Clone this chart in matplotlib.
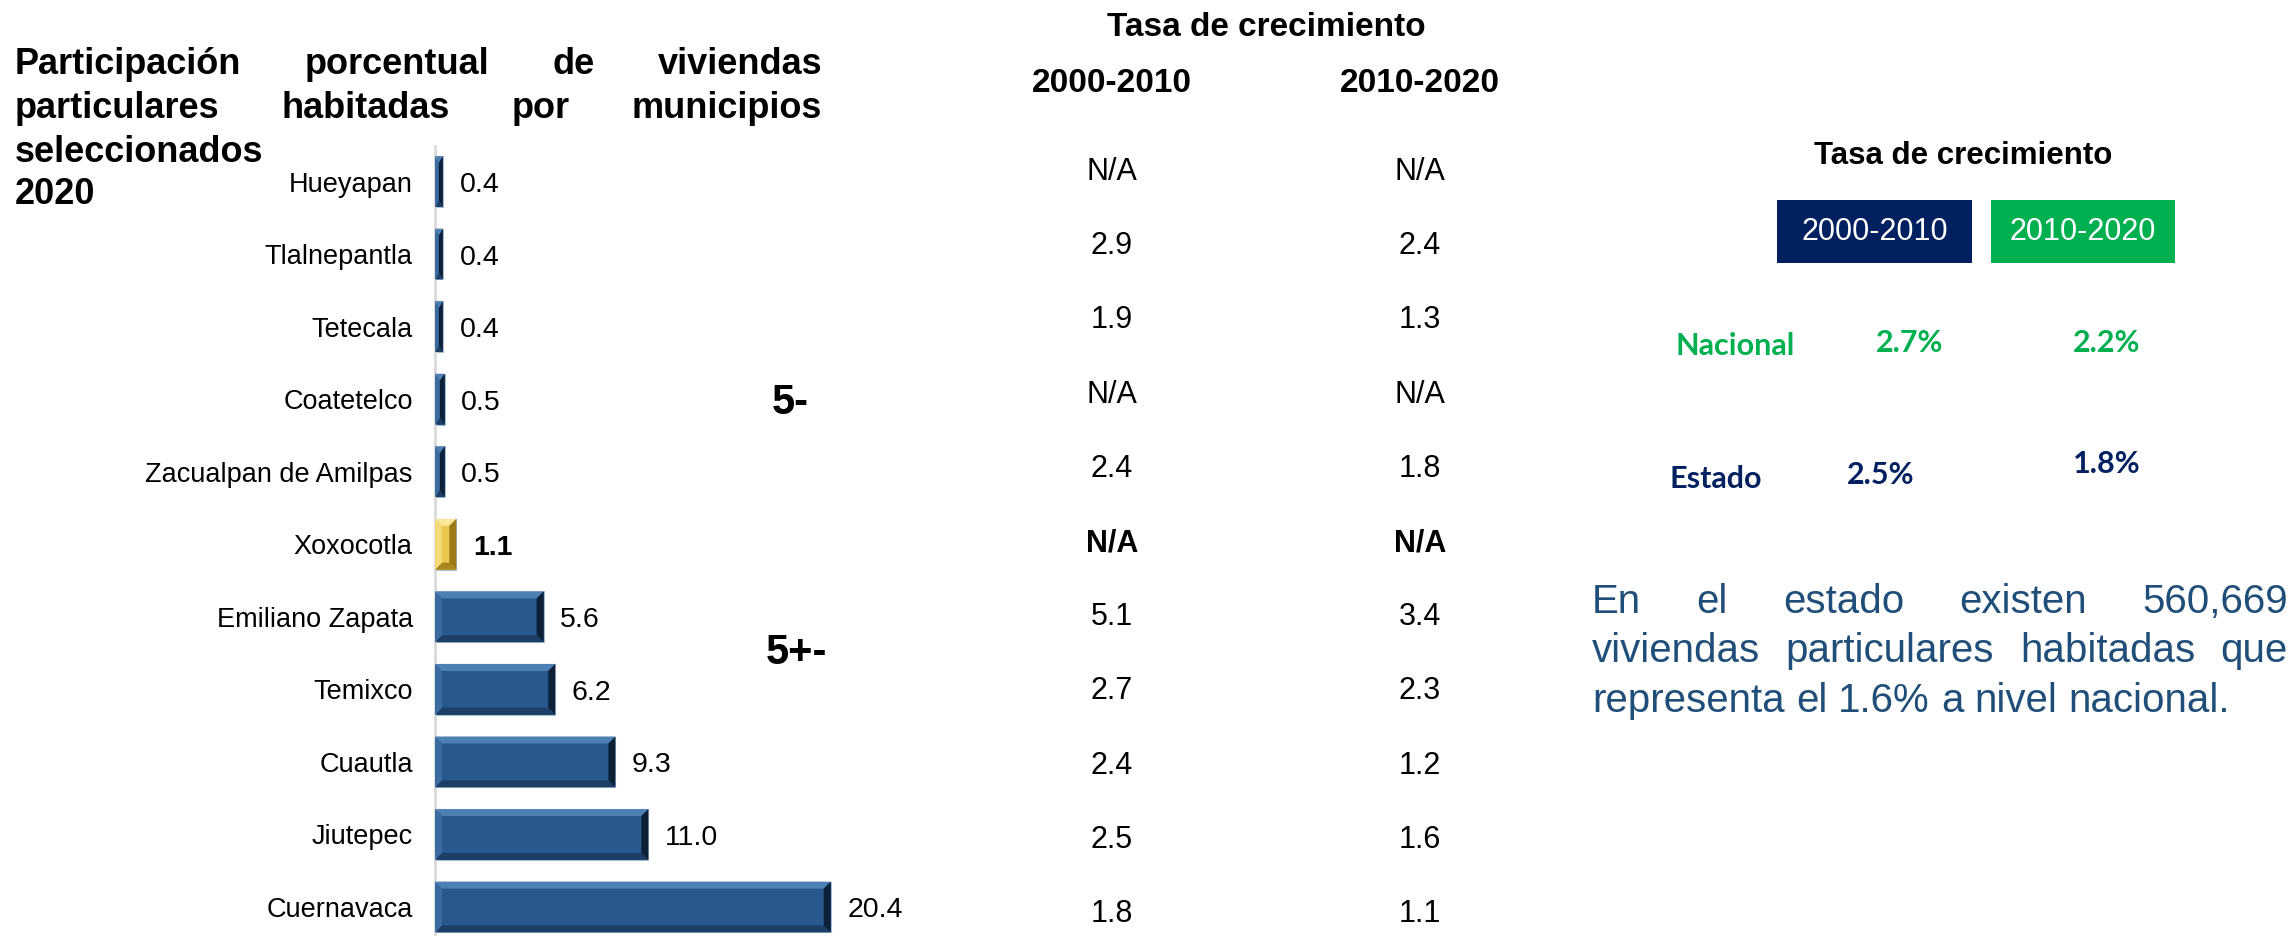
import matplotlib
matplotlib.use("Agg")
import matplotlib.pyplot as plt
from matplotlib.patches import Polygon, Rectangle

# datos
municipios = ["Hueyapan", "Tlalnepantla", "Tetecala", "Coatetelco",
              "Zacualpan de Amilpas", "Xoxocotla", "Emiliano Zapata",
              "Temixco", "Cuautla", "Jiutepec", "Cuernavaca"]
participacion = [0.4, 0.4, 0.4, 0.5, 0.5, 1.1, 5.6, 6.2, 9.3, 11.0, 20.4]
tasa_2000_2010 = ["N/A", "2.9", "1.9", "N/A", "2.4", "N/A", "5.1", "2.7", "2.4", "2.5", "1.8"]
tasa_2010_2020 = ["N/A", "2.4", "1.3", "N/A", "1.8", "N/A", "3.4", "2.3", "1.2", "1.6", "1.1"]
periodos = ["2000-2010", "2010-2020"]
nacional = [2.7, 2.2]
estado = [2.5, 1.8]
resaltado = "Xoxocotla"

titulo = ["Participación porcentual de viviendas",
          "particulares habitadas por municipios",
          "seleccionados",
          "2020"]
parrafo = ["En el estado existen 560,669",
           "viviendas particulares habitadas que",
           "representa el 1.6% a nivel nacional."]

W, H = 2290, 936
plt.rcParams['font.family'] = ['Liberation Sans', 'DejaVu Sans']
fig = plt.figure(figsize=(W / 100, H / 100), dpi=100)
fig.patch.set_facecolor("white")

NAVY = "#002060"
GREEN = "#00B050"
TXTBLUE = "#1F4E79"


def px(x, y):
    return x / W, 1 - y / H


def justified(lines, x0, x1, ys, n_just, **kw):
    r = fig.canvas.get_renderer()
    sp = fig.text(0, 0, "a a", **kw)
    sa = fig.text(0, 0, "aa", **kw)
    space = sp.get_window_extent(r).width - sa.get_window_extent(r).width
    sp.remove()
    sa.remove()
    for i, (line, y) in enumerate(zip(lines, ys)):
        words = line.split()
        texts = [fig.text(*px(x0, y), w, ha="left", va="center", **kw) for w in words]
        widths = [t.get_window_extent(r).width for t in texts]
        if i >= n_just or len(words) < 2:
            gap = space
        else:
            gap = (x1 - x0 - sum(widths)) / (len(words) - 1)
        x = x0
        for t, w in zip(texts, widths):
            t.set_position(px(x, y))
            x += w + gap


# ---- barras ----
x_left, ppu = 435, 19.4
y_top, step, bar_c0 = 146, 72.55, 181.5
ax = fig.add_axes([x_left / W, 0, 30 * ppu / W, 1 - y_top / H])
ypos = list(range(len(municipios)))
colors = ["#E9C850" if m == resaltado else "#28588C" for m in municipios]
bars = ax.barh(ypos, participacion, height=0.70, color=colors,
               edgecolor="#A9BCD3", linewidth=0.8)
ax.set_xlim(0, 30)
ax.set_ylim((H - bar_c0) / step, -(bar_c0 - y_top) / step)

bx = 7 / ppu
by = 7 / step
for p, m in zip(bars, municipios):
    x0, w, y0, h = p.get_x(), p.get_width(), p.get_y(), p.get_height()
    b = min(bx, w / 2)
    if m == resaltado:
        cs = ["#FBE79A", "#A8861F", "#F4DA78", "#9C7A18"]
    else:
        cs = ["#4F80B4", "#1B3F66", "#3C6C9F", "#0C2038"]
    polys = [
        [(x0, y0), (x0 + w, y0), (x0 + w - b, y0 + by), (x0 + b, y0 + by)],
        [(x0, y0 + h), (x0 + w, y0 + h), (x0 + w - b, y0 + h - by), (x0 + b, y0 + h - by)],
        [(x0, y0), (x0 + b, y0 + by), (x0 + b, y0 + h - by), (x0, y0 + h)],
        [(x0 + w, y0), (x0 + w - b, y0 + by), (x0 + w - b, y0 + h - by), (x0 + w, y0 + h)],
    ]
    for poly, c in zip(polys, cs):
        ax.add_patch(Polygon(poly, closed=True, facecolor=c, edgecolor="none", zorder=3))

for p, v, m in zip(bars, participacion, municipios):
    ax.annotate(f"{v:.1f}", (p.get_width(), p.get_y() + p.get_height() / 2),
                xytext=(12, -2.5), textcoords="offset points", va="center", ha="left",
                fontsize=20.5, fontweight="bold" if m == resaltado else "normal",
                annotation_clip=False)

ax.set_yticks(ypos)
ax.set_yticklabels(municipios, fontsize=19.5)
ax.tick_params(axis="y", length=0, pad=16)
ax.set_xticks([])
for s in ["top", "right", "bottom"]:
    ax.spines[s].set_visible(False)
ax.spines["left"].set_color("#D9D9D9")
ax.spines["left"].set_linewidth(2)
ax.patch.set_alpha(0)

# ---- titulo ----
justified(titulo, 15, 822, [64, 108, 152, 195], 2, fontsize=26, fontweight="bold")

fig.text(*px(790, 403), "5-", fontsize=30, fontweight="bold", ha="center", va="center")
fig.text(*px(796, 653), "5+-", fontsize=30, fontweight="bold", ha="center", va="center")

# ---- tabla de tasas ----
col_x = [1112, 1420]
fig.text(*px(1266, 27), "Tasa de crecimiento", fontsize=24, fontweight="bold",
         ha="center", va="center")
for cx, per in zip(col_x, periodos):
    fig.text(*px(cx, 84), per, fontsize=24, fontweight="bold", ha="center", va="center")
for i, m in enumerate(municipios):
    y = 172 + i * 74.2
    wt = "bold" if m == resaltado else "normal"
    for cx, col in zip(col_x, [tasa_2000_2010, tasa_2010_2020]):
        fig.text(*px(cx, y), col[i], fontsize=22, fontweight=wt, ha="center", va="center")

# ---- panel derecho ----
fig.text(*px(1963, 156), "Tasa de crecimiento", fontsize=22.5, fontweight="bold",
         ha="center", va="center")
for (bx0, bx1), per, c in zip([(1777, 1972), (1991, 2175)], periodos, [NAVY, GREEN]):
    fig.patches.append(Rectangle(px(bx0, 263), (bx1 - bx0) / W, 63 / H,
                                 transform=fig.transFigure, facecolor=c, edgecolor="none"))
    fig.text(*px((bx0 + bx1) / 2, 232), per, fontsize=22, color="white",
             ha="center", va="center")

lato = ["Lato", "DejaVu Sans"]
fig.text(*px(1735, 346), "Nacional", fontsize=22, fontweight="bold", color=GREEN,
         ha="center", va="center", family=lato)
for cx, cy, v in zip([1910, 2107], [343, 343], nacional):
    fig.text(*px(cx, cy), f"{v}%", fontsize=22, fontweight="bold", color=GREEN,
             ha="center", va="center", family=lato)
fig.text(*px(1716, 479), "Estado", fontsize=22, fontweight="bold", color=NAVY,
         ha="center", va="center", family=lato)
for cx, cy, v in zip([1881, 2107], [475, 464], estado):
    fig.text(*px(cx, cy), f"{v}%", fontsize=22, fontweight="bold", color=NAVY,
             ha="center", va="center", family=lato)

justified(parrafo, 1592, 2288, [602, 651, 701], 2, fontsize=29, color=TXTBLUE)

fig.savefig("out.png", dpi=100)
